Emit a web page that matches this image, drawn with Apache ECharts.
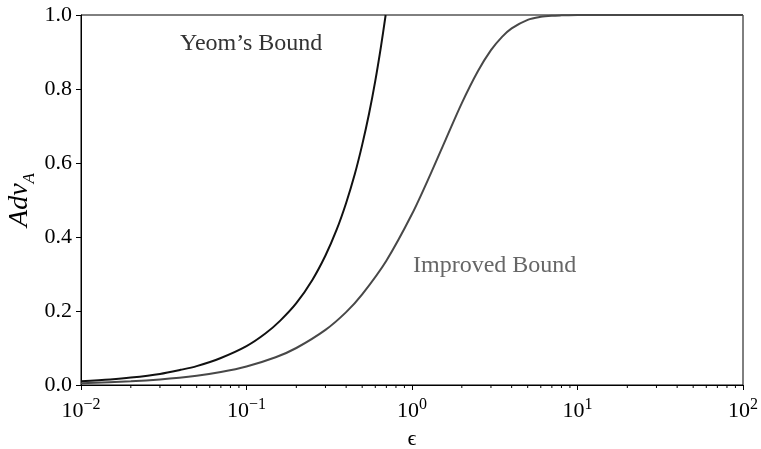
<!DOCTYPE html>
<html>
<head>
<meta charset="utf-8">
<script src="https://cdn.jsdelivr.net/npm/echarts@6/dist/echarts.min.js"></script>
<style>html,body{margin:0;padding:0;background:#fff}#c{width:761px;height:449px}</style>
</head>
<body>
<div id="c"></div>
<script>
// epsilon values and adversary advantage
var yeomEps  = [0.01, 0.015, 0.02, 0.03, 0.04, 0.05, 0.07, 0.1, 0.13, 0.16, 0.2, 0.25, 0.3, 0.35, 0.4, 0.45, 0.5, 0.55, 0.6, 0.65, 0.6931];
var yeomAdv  = [0.010, 0.015, 0.020, 0.030, 0.041, 0.051, 0.073, 0.105, 0.139, 0.174, 0.221, 0.284, 0.350, 0.419, 0.492, 0.568, 0.649, 0.733, 0.822, 0.916, 1.0];
var impEps   = [0.01, 0.02, 0.03, 0.05, 0.07, 0.1, 0.15, 0.2, 0.3, 0.4, 0.5, 0.7, 1.0, 1.3, 1.6, 2.0, 2.5, 3.0, 3.5, 4.0, 5.0, 6.0, 7.0, 8.0, 10, 20, 50, 100];
var impAdv   = [0.005, 0.010, 0.015, 0.025, 0.035, 0.050, 0.075, 0.100, 0.149, 0.197, 0.245, 0.336, 0.462, 0.572, 0.664, 0.762, 0.848, 0.905, 0.941, 0.964, 0.987, 0.995, 0.998, 0.999, 1.0, 1.0, 1.0, 1.0];
var yTicks   = [0.0, 0.2, 0.4, 0.6, 0.8, 1.0];
var xMajor   = [0.01, 0.1, 1, 10, 100];
var xMinor   = [];
for (var k = -2; k <= 1; k++) { for (var m = 2; m <= 9; m++) { xMinor.push(m * Math.pow(10, k)); } }
var labelYeom = "Yeom\u2019s Bound";
var labelImp = "Improved Bound";

function pairs(a, b) { return a.map(function (v, i) { return [v, b[i]]; }); }

var FONT = "Liberation Serif";
var chart = echarts.init(document.getElementById('c'), null, {renderer: 'canvas'});
chart.setOption({
  animation: false,
  backgroundColor: '#fff',
  grid: {left: 81, right: 18, top: 15, bottom: 64, containLabel: false, outerBoundsMode: 'none',
         show: true, borderColor: '#000', borderWidth: 1, backgroundColor: 'transparent'},
  xAxis: {
    type: 'log', logBase: 10, min: 0.01, max: 100,
    name: '\u03f5', nameLocation: 'middle', nameGap: 43, nameMoveOverlap: false,
    nameTextStyle: {fontFamily: FONT, fontSize: 22, color: '#000'},
    axisLine: {lineStyle: {color: '#000', width: 1}},
    axisTick: {show: true, inside: false, length: 5, lineStyle: {color: '#000'}},
    splitLine: {show: false},
    minorTick: {show: false},
    axisLabel: {
      margin: 12, color: '#000', fontFamily: FONT,
      formatter: function (v) {
        var e = Math.round(Math.log10(v));
        var s = e < 0 ? '\u2212' + (-e) : '' + e;
        return '{b|10}{s|' + s + '}';
      },
      rich: {
        b: {fontFamily: FONT, fontSize: 22, color: '#000', verticalAlign: 'bottom'},
        s: {fontFamily: FONT, fontSize: 16, color: '#000', verticalAlign: 'bottom', padding: [0, 0, 9, 0]}
      }
    }
  },
  yAxis: {
    type: 'value', min: 0, max: 1, interval: 0.2,
    name: '{i|Adv}{s|A}', nameLocation: 'middle', nameGap: 47, nameMoveOverlap: false,
    nameTextStyle: {
      rich: {
        i: {fontFamily: FONT, fontStyle: 'italic', fontSize: 28, color: '#000', verticalAlign: 'bottom'},
        s: {fontFamily: FONT, fontStyle: 'italic', fontSize: 17, color: '#000', verticalAlign: 'bottom', padding: [0, 0, -4, 0]}
      }
    },
    axisLine: {show: true, lineStyle: {color: '#000', width: 1}},
    axisTick: {show: true, inside: false, length: 5, lineStyle: {color: '#000'}},
    splitLine: {show: false},
    axisLabel: {
      margin: 9, color: '#000', fontFamily: FONT, fontSize: 22,
      formatter: function (v) { return v.toFixed(1); }
    }
  },
  series: [
    {
      type: 'line', name: labelYeom, data: pairs(yeomEps, yeomAdv), smooth: 0.3, showSymbol: false,
      lineStyle: {color: '#111', width: 2}, z: 3
    },
    {
      type: 'line', name: labelImp, data: pairs(impEps, impAdv), smooth: 0.3, showSymbol: false,
      lineStyle: {color: '#484848', width: 2}, z: 2
    },
    {
      type: 'custom', data: xMinor.map(function (v) { return [v, 0]; }), clip: false, silent: true,
      renderItem: function (params, api) {
        var p = api.coord([api.value(0), 0]);
        return {type: 'line', shape: {x1: p[0], y1: p[1], x2: p[0], y2: p[1] + 3}, style: {stroke: '#000', lineWidth: 1}};
      }
    }
  ],
  graphic: [
    {type: 'text', left: 180, top: 32, style: {text: labelYeom, font: '24px "Liberation Serif"', fill: '#333'}},
    {type: 'text', left: 413, top: 254, style: {text: labelImp, font: '24px "Liberation Serif"', fill: '#666'}}
  ]
});
</script>
</body>
</html>
